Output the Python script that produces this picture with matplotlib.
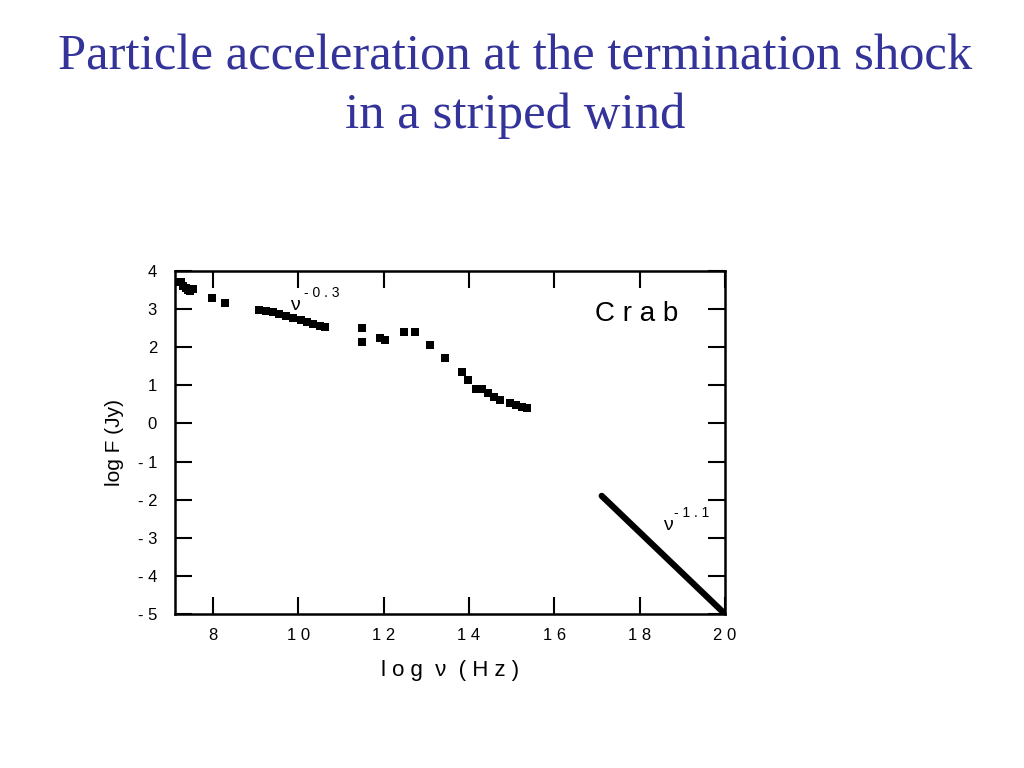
import matplotlib
matplotlib.use('Agg')
import matplotlib.pyplot as plt
import numpy as np

# Crab spectrum
log_nu = [7.18, 7.25, 7.30, 7.36, 7.41, 7.47, 7.53, 7.98, 8.28,
          9.08, 9.25, 9.40, 9.55, 9.70, 9.88, 10.05, 10.20, 10.35, 10.50, 10.62,
          11.49, 11.49, 11.91, 12.03, 12.47, 12.73, 13.08, 13.43, 13.83, 13.97,
          14.16, 14.30, 14.44, 14.58, 14.72, 14.96, 15.10, 15.24, 15.35]
log_F = [3.72, 3.70, 3.62, 3.55, 3.50, 3.47, 3.52, 3.29, 3.16,
         2.99, 2.96, 2.92, 2.87, 2.82, 2.77, 2.72, 2.67, 2.62, 2.56, 2.53,
         2.50, 2.14, 2.24, 2.19, 2.40, 2.40, 2.06, 1.72, 1.35, 1.14,
         0.90, 0.90, 0.80, 0.69, 0.61, 0.54, 0.48, 0.43, 0.40]

# high-energy power law nu^-1.1
pl_x = [17.11, 20.0]
pl_y = [-1.90, -5.0]

xticks = [8, 10, 12, 14, 16, 18, 20]
yticks = [4, 3, 2, 1, 0, -1, -2, -3, -4, -5]

tick_font = ['Liberation Sans Narrow', 'Liberation Sans', 'DejaVu Sans']

fig = plt.figure(figsize=(10.24, 7.68), dpi=100)
ax = fig.add_axes([0.171, 0.2005, 0.537, 0.4466])

ax.plot(log_nu, log_F, 's', color='black', markersize=6, markeredgewidth=0)
ax.plot(pl_x, pl_y, '-', color='black', linewidth=4.5, solid_capstyle='round')

ax.set_xlim(7.11, 20)
ax.set_ylim(-5, 4)
ax.set_xticks(xticks)
ax.set_yticks(yticks)
ax.set_xticklabels([' '.join(str(t)) for t in xticks], fontsize=12, family=tick_font)
ax.set_yticklabels([' '.join(str(t)) for t in yticks], fontsize=12, family=tick_font)
ax.tick_params(direction='in', length=12, width=1.5, top=True, right=True, pad=10)
ax.tick_params(axis='y', pad=13)
for s in ax.spines.values():
    s.set_linewidth(1.8)

ax.set_xlabel('l o g  ν  ( H z )', fontsize=16, family=tick_font, labelpad=12)
ax.set_ylabel('log F (Jy)', fontsize=15, family=tick_font)
ax.yaxis.set_label_coords(-0.093, 0.5)

ax.text(9.80, 2.98, 'ν', fontsize=14, family=tick_font)
ax.text(10.12, 3.32, '- 0 . 3', fontsize=10, family=tick_font)
ax.text(16.95, 2.68, 'C r a b', fontsize=20, family=tick_font)
ax.text(18.55, -2.80, 'ν', fontsize=14, family=tick_font)
ax.text(18.80, -2.46, '- 1 . 1', fontsize=10, family=tick_font)

fig.text(0.503, 0.887, 'Particle acceleration at the termination shock\nin a striped wind',
         ha='center', va='center', fontsize=36.5, color='#333399',
         family='Liberation Serif', linespacing=1.34)

fig.savefig('out.png', dpi=100)
